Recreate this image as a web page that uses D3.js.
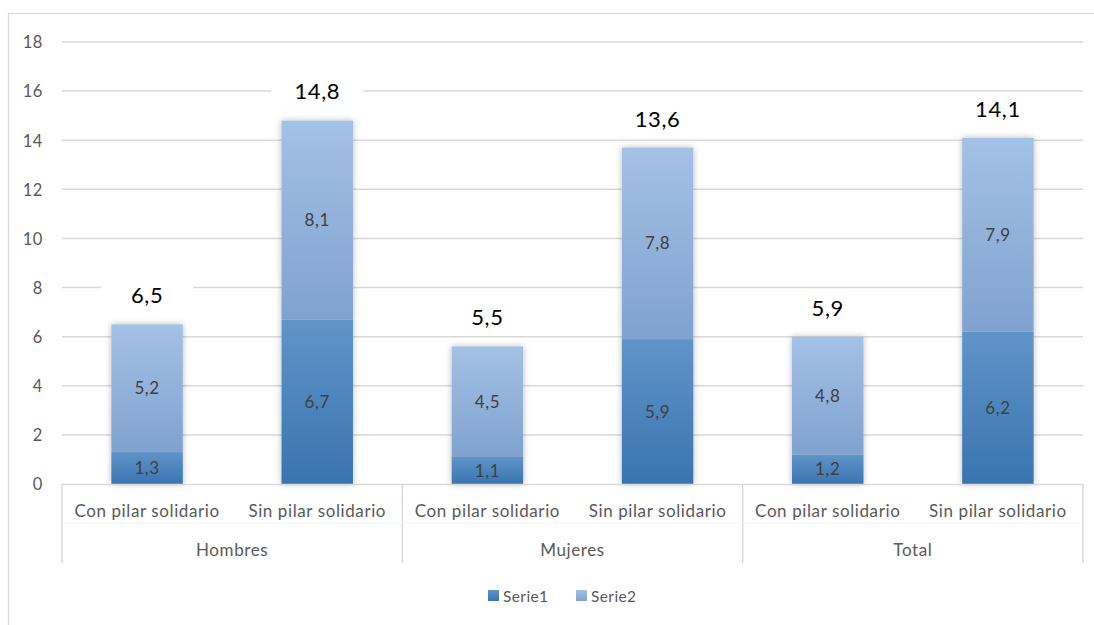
<!DOCTYPE html>
<html><head><meta charset="utf-8">
<script src="https://cdn.jsdelivr.net/npm/d3@7"></script>
<style>body{margin:0;background:#fff}svg{display:block}</style>
</head><body><svg id="c" width="1094" height="625"></svg>
<script>
const groups = ["Hombres", "Mujeres", "Total"];
const subCats = ["Con pilar solidario", "Sin pilar solidario"];
const serie1 = [1.3, 6.7, 1.1, 5.9, 1.2, 6.2];
const serie2 = [5.2, 8.1, 4.5, 7.8, 4.8, 7.9];
const totals = [6.5, 14.8, 5.5, 13.6, 5.9, 14.1];
const yTicks = [0, 2, 4, 6, 8, 10, 12, 14, 16, 18];
const seriesNames = ["Serie1", "Serie2"];

const font = "Lato, 'Open Sans', sans-serif";
const svg = d3.select("#c");
const defs = svg.append("defs");

function grad(id, c0, c1) {
  const g = defs.append("linearGradient").attr("id", id)
    .attr("x1", 0).attr("y1", 0).attr("x2", 0).attr("y2", 1);
  g.append("stop").attr("offset", "0%").attr("stop-color", c0);
  g.append("stop").attr("offset", "100%").attr("stop-color", c1);
}
grad("g1", "#6094c9", "#3a74b0");
grad("g2", "#a4c1e6", "#7fa2cf");
const f = defs.append("filter").attr("id", "sh").attr("x", "-30%").attr("y", "-10%").attr("width", "160%").attr("height", "120%");
f.append("feDropShadow").attr("dx", 0).attr("dy", 0).attr("stdDeviation", 3).attr("flood-color", "#000").attr("flood-opacity", 0.28);

// chart frame
svg.append("rect").attr("x", 8.5).attr("y", 13.5).attr("width", 1100).attr("height", 700)
  .attr("fill", "#fff").attr("stroke", "#d9d9d9").attr("stroke-width", 1.3);

const pL = 62, pR = 1083, pT = 42, pB = 484;
const y = d3.scaleLinear().domain([0, 18]).range([pB, pT]);
const keys = d3.range(serie1.length);
const x = d3.scaleBand().domain(keys).range([pL, pR]).paddingInner(0.58).paddingOuter(0.29);

// gridlines
svg.append("g").selectAll("line").data(yTicks.filter(d => d > 0)).join("line")
  .attr("x1", pL).attr("x2", pR)
  .attr("y1", d => y(d)).attr("y2", d => y(d))
  .attr("stroke", "#d9d9d9").attr("stroke-width", 1.5);

// y axis labels
const yAxis = d3.axisLeft(y).tickValues(yTicks).tickSize(0).tickPadding(0).tickFormat(d3.format("d"));
const ya = svg.append("g").attr("transform", `translate(43,0)`).call(yAxis);
ya.select(".domain").remove();
ya.selectAll("text").attr("font-family", font).attr("font-size", 16.5).attr("letter-spacing", 0.6)
  .attr("fill", "#595959").attr("dy", "0.35em");

// stacked bars
const stacked = keys.map(i => ({ i, s1: serie1[i], s2: serie2[i], tot: totals[i] }));
const bars = svg.append("g").attr("filter", "url(#sh)");
bars.selectAll(".b1").data(stacked).join("rect")
  .attr("x", d => x(d.i)).attr("width", x.bandwidth())
  .attr("y", d => y(d.s1)).attr("height", d => y(0) - y(d.s1))
  .attr("fill", "url(#g1)");
bars.selectAll(".b2").data(stacked).join("rect")
  .attr("x", d => x(d.i)).attr("width", x.bandwidth())
  .attr("y", d => y(d.s1 + d.s2)).attr("height", d => y(d.s1) - y(d.s1 + d.s2))
  .attr("fill", "url(#g2)");

const fmt = v => d3.format(".1f")(v).replace(".", ",");
const lab = svg.append("g").attr("font-family", font).attr("text-anchor", "middle");
lab.selectAll(".l1").data(stacked).join("text")
  .attr("x", d => x(d.i) + x.bandwidth() / 2).attr("y", d => y(d.s1 / 2)).attr("dy", "0.36em")
  .attr("font-size", 17).attr("letter-spacing", 0.6).attr("fill", "#404040").text(d => fmt(d.s1));
lab.selectAll(".l2").data(stacked).join("text")
  .attr("x", d => x(d.i) + x.bandwidth() / 2).attr("y", d => y(d.s1 + d.s2 / 2)).attr("dy", "0.36em")
  .attr("font-size", 17).attr("letter-spacing", 0.6).attr("fill", "#404040").text(d => fmt(d.s2));

// total labels with white backing
const tl = lab.selectAll(".tl").data(stacked).join("g")
  .attr("transform", d => `translate(${x(d.i) + x.bandwidth() / 2},${y(d.s1 + d.s2) - 29})`);
tl.append("rect").attr("x", -46).attr("y", -13).attr("width", 92).attr("height", 26).attr("fill", "#fff");
tl.append("text").attr("dy", "0.36em").attr("font-size", 22).attr("letter-spacing", 0.6).attr("fill", "#000").text(d => fmt(d.tot));

// category axis
const ax = svg.append("g").attr("stroke", "#d9d9d9").attr("stroke-width", 1.5);
ax.append("line").attr("x1", pL).attr("x2", pR).attr("y1", pB + 0.5).attr("y2", pB + 0.5);
const gw = (pR - pL) / groups.length;
ax.selectAll(".v").data(d3.range(groups.length + 1)).join("line")
  .attr("x1", d => pL + d * gw).attr("x2", d => pL + d * gw)
  .attr("y1", pB).attr("y2", 563);
ax.append("line").attr("x1", pL).attr("x2", pR).attr("y1", 523).attr("y2", 523).attr("stroke", "#f2f2f2").attr("stroke-width", 1);

svg.append("g").attr("font-family", font).attr("font-size", 17).attr("letter-spacing", 0.6).attr("fill", "#595959").attr("text-anchor", "middle")
  .selectAll("text").data(keys).join("text")
  .attr("x", d => x(d) + x.bandwidth() / 2).attr("y", 511).attr("dy", "0.35em")
  .text(d => subCats[d % 2]);
svg.append("g").attr("font-family", font).attr("font-size", 17).attr("letter-spacing", 0.6).attr("fill", "#595959").attr("text-anchor", "middle")
  .selectAll("text").data(groups).join("text")
  .attr("x", (d, i) => pL + (i + 0.5) * gw).attr("y", 550).attr("dy", "0.35em").text(d => d);

// legend
const lg = svg.append("g").attr("font-family", font).attr("font-size", 15.5).attr("letter-spacing", 0.4).attr("fill", "#595959");
const lx = [488, 576];
const litems = lg.selectAll("g").data(seriesNames).join("g").attr("transform", (d, i) => `translate(${lx[i]},590)`);
litems.append("rect").attr("width", 11).attr("height", 11).attr("fill", (d, i) => i === 0 ? "url(#g1)" : "url(#g2)");
litems.append("text").attr("x", 15).attr("y", 6).attr("dy", "0.36em").text(d => d);
</script></body></html>
